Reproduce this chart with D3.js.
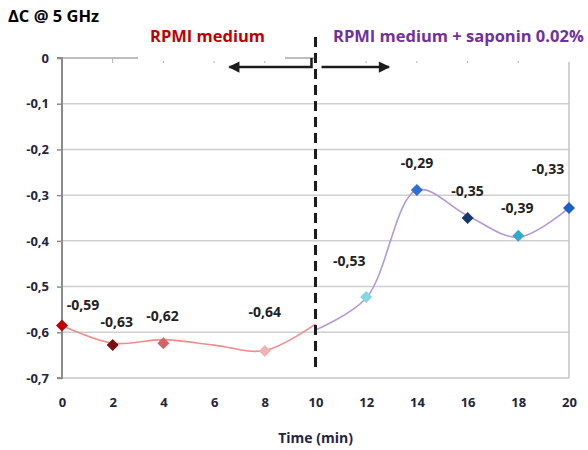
<!DOCTYPE html>
<html><head><meta charset="utf-8">
<script src="https://cdn.jsdelivr.net/npm/d3@7"></script>
<style>
html,body{margin:0;padding:0;background:#fff;}
text{font-family:"Open Sans","Liberation Sans",sans-serif;font-weight:bold;}
</style></head>
<body><svg id="c" width="588" height="450"></svg>
<script>
// ---- data ----
const times = [0, 2, 4, 8, 12, 14, 16, 18, 20];
const deltaC = [-0.585, -0.628, -0.624, -0.641, -0.523, -0.289, -0.350, -0.389, -0.328];
const valueLabels = ["-0,59", "-0,63", "-0,62", "-0,64", "-0,53", "-0,29", "-0,35", "-0,39", "-0,33"];
const markerColors = ["#c00000", "#7a0f0f", "#d06464", "#f0b2b2", "#86d4e4", "#2f6fd2", "#15386f", "#32a9c8", "#1f5fcc"];
// smoothed trend through each phase
const rpmiCurveX = [0, 2, 4, 6, 8, 10];
const rpmiCurveY = [-0.585, -0.624, -0.616, -0.628, -0.640, -0.582];
const saponinCurveX = [10, 12, 14, 16, 18, 20];
const saponinCurveY = [-0.595, -0.525, -0.289, -0.345, -0.392, -0.328];
const xTicks = [0, 2, 4, 6, 8, 10, 12, 14, 16, 18, 20];
const yTicks = [0, -0.1, -0.2, -0.3, -0.4, -0.5, -0.6, -0.7];
const yTickLabels = ["0", "-0,1", "-0,2", "-0,3", "-0,4", "-0,5", "-0,6", "-0,7"];
const switchTime = 10;

// label offsets relative to each point (layout only)
const labelOffsets = [[21,-15],[4,-18],[-1,-22],[0,-34],[-17,-31],[0,-22],[0,-22],[-1,-23],[-21,-34]];

const svg = d3.select("#c");
const x = d3.scaleLinear().domain([0, 20]).range([62, 569]);
const y = d3.scaleLinear().domain([-0.7, 0]).range([378, 58]);

// grid lines
svg.append("g").selectAll("line").data(yTicks.filter(v => v < 0 && v > -0.7)).join("line")
  .attr("x1", x(0)).attr("x2", x(20)).attr("y1", d => y(d)).attr("y2", d => y(d))
  .attr("stroke", "#cfcfcf").attr("stroke-width", 1.5);
// bottom axis line
svg.append("line").attr("x1", x(0)).attr("x2", x(20)).attr("y1", y(-0.7)).attr("y2", y(-0.7))
  .attr("stroke", "#c4c4c4").attr("stroke-width", 1.5);
// right border
svg.append("line").attr("x1", x(20)).attr("x2", x(20)).attr("y1", y(0) + 4).attr("y2", y(-0.7))
  .attr("stroke", "#c4c4c4").attr("stroke-width", 1.5);
// partial top axis line
[[-0.2, 3], [8.8, 10]].forEach(s => {
  svg.append("line").attr("x1", x(s[0])).attr("x2", x(s[1])).attr("y1", y(0)).attr("y2", y(0))
    .attr("stroke", "#bdbdbd").attr("stroke-width", 2);
});
// top tick marks
svg.append("g").selectAll("line").data(xTicks.filter(t => t > 0 && t < 20)).join("line")
  .attr("x1", d => x(d)).attr("x2", d => x(d)).attr("y1", d => d === 2 ? y(0) : y(0) + 3).attr("y2", y(0) + 5)
  .attr("stroke", "#b0b0b0").attr("stroke-width", 1);

// left axis
const yAxis = d3.axisLeft(y).tickValues(yTicks).tickSize(5).tickFormat((d, i) => yTickLabels[i]);
const gy = svg.append("g").attr("transform", `translate(${x(0)},0)`).call(yAxis);
gy.select(".domain").attr("stroke", "#8c8c8c").attr("stroke-width", 2).attr("d", `M-5,${y(0)}H0V${y(-0.7)}H-5`);
gy.selectAll(".tick line").attr("stroke", "#8c8c8c").attr("stroke-width", 1.5);
gy.selectAll(".tick text").attr("x", -13).attr("fill", "#23253f").style("font-size", "13px");

// bottom tick labels
const xAxis = d3.axisBottom(x).tickValues(xTicks).tickSize(0).tickFormat(d3.format("d"));
const gx = svg.append("g").attr("transform", `translate(0,${y(-0.7)})`).call(xAxis);
gx.select(".domain").remove();
gx.selectAll(".tick text").attr("y", 20).attr("fill", "#23253f").style("font-size", "13px");

// axis title
svg.append("text").attr("x", x(10)).attr("y", 443).attr("text-anchor", "middle")
  .attr("fill", "#23253f").style("font-size", "14px").text("Time (min)");

// curves
const line = d3.line().curve(d3.curveCatmullRom.alpha(0.5));
svg.append("path").attr("d", line(rpmiCurveX.map((t, i) => [x(t), y(rpmiCurveY[i])])))
  .attr("fill", "none").attr("stroke", "#f08c8c").attr("stroke-width", 1.6);
svg.append("path").attr("d", line(saponinCurveX.map((t, i) => [x(t), y(saponinCurveY[i])])))
  .attr("fill", "none").attr("stroke", "#b399d8").attr("stroke-width", 1.6);

// dashed separator
svg.append("line").attr("x1", x(switchTime)).attr("x2", x(switchTime)).attr("y1", 37).attr("y2", 368)
  .attr("stroke", "#1c1c1c").attr("stroke-width", 3).attr("stroke-dasharray", "10,6");

// arrows
const defs = svg.append("defs");
defs.append("marker").attr("id", "ah").attr("viewBox", "0 0 10 10").attr("refX", 9).attr("refY", 5)
  .attr("markerWidth", 5.5).attr("markerHeight", 4.5).attr("markerUnits", "strokeWidth").attr("orient", "auto")
  .append("path").attr("d", "M0,0L10,5L0,10z").attr("fill", "#1c1c1c");
svg.append("path").attr("d", `M${x(switchTime) - 4},${y(0)}V${y(0) + 9}H${x(6.6)}`)
  .attr("fill", "none").attr("stroke", "#1c1c1c").attr("stroke-width", 2.5).attr("marker-end", "url(#ah)");
svg.append("path").attr("d", `M${x(switchTime) + 6},${y(0) + 9}H${x(12.9)}`)
  .attr("fill", "none").attr("stroke", "#1c1c1c").attr("stroke-width", 2.5).attr("marker-end", "url(#ah)");

// markers (square diamonds)
const r = 6;
svg.append("g").selectAll("path").data(times).join("path")
  .attr("d", `M0,${-r}L${r},0L0,${r}L${-r},0Z`)
  .attr("transform", (d, i) => `translate(${x(d)},${y(deltaC[i])})`)
  .attr("fill", (d, i) => markerColors[i]);

// value labels
svg.append("g").selectAll("text").data(times).join("text")
  .attr("x", (d, i) => x(d) + labelOffsets[i][0]).attr("y", (d, i) => y(deltaC[i]) + labelOffsets[i][1])
  .attr("text-anchor", "middle").attr("fill", "#222222").style("font-size", "14px")
  .text((d, i) => valueLabels[i]);

// titles
svg.append("text").attr("x", 8).attr("y", 22).attr("fill", "#000").style("font-size", "16.5px").text("ΔC @ 5 GHz");
svg.append("text").attr("x", 150).attr("y", 42).attr("fill", "#c00000").style("font-size", "16.5px").text("RPMI medium");
svg.append("text").attr("x", 333).attr("y", 42).attr("fill", "#7030a0").style("font-size", "16.5px").text("RPMI medium + saponin 0.02%");
</script></body></html>
